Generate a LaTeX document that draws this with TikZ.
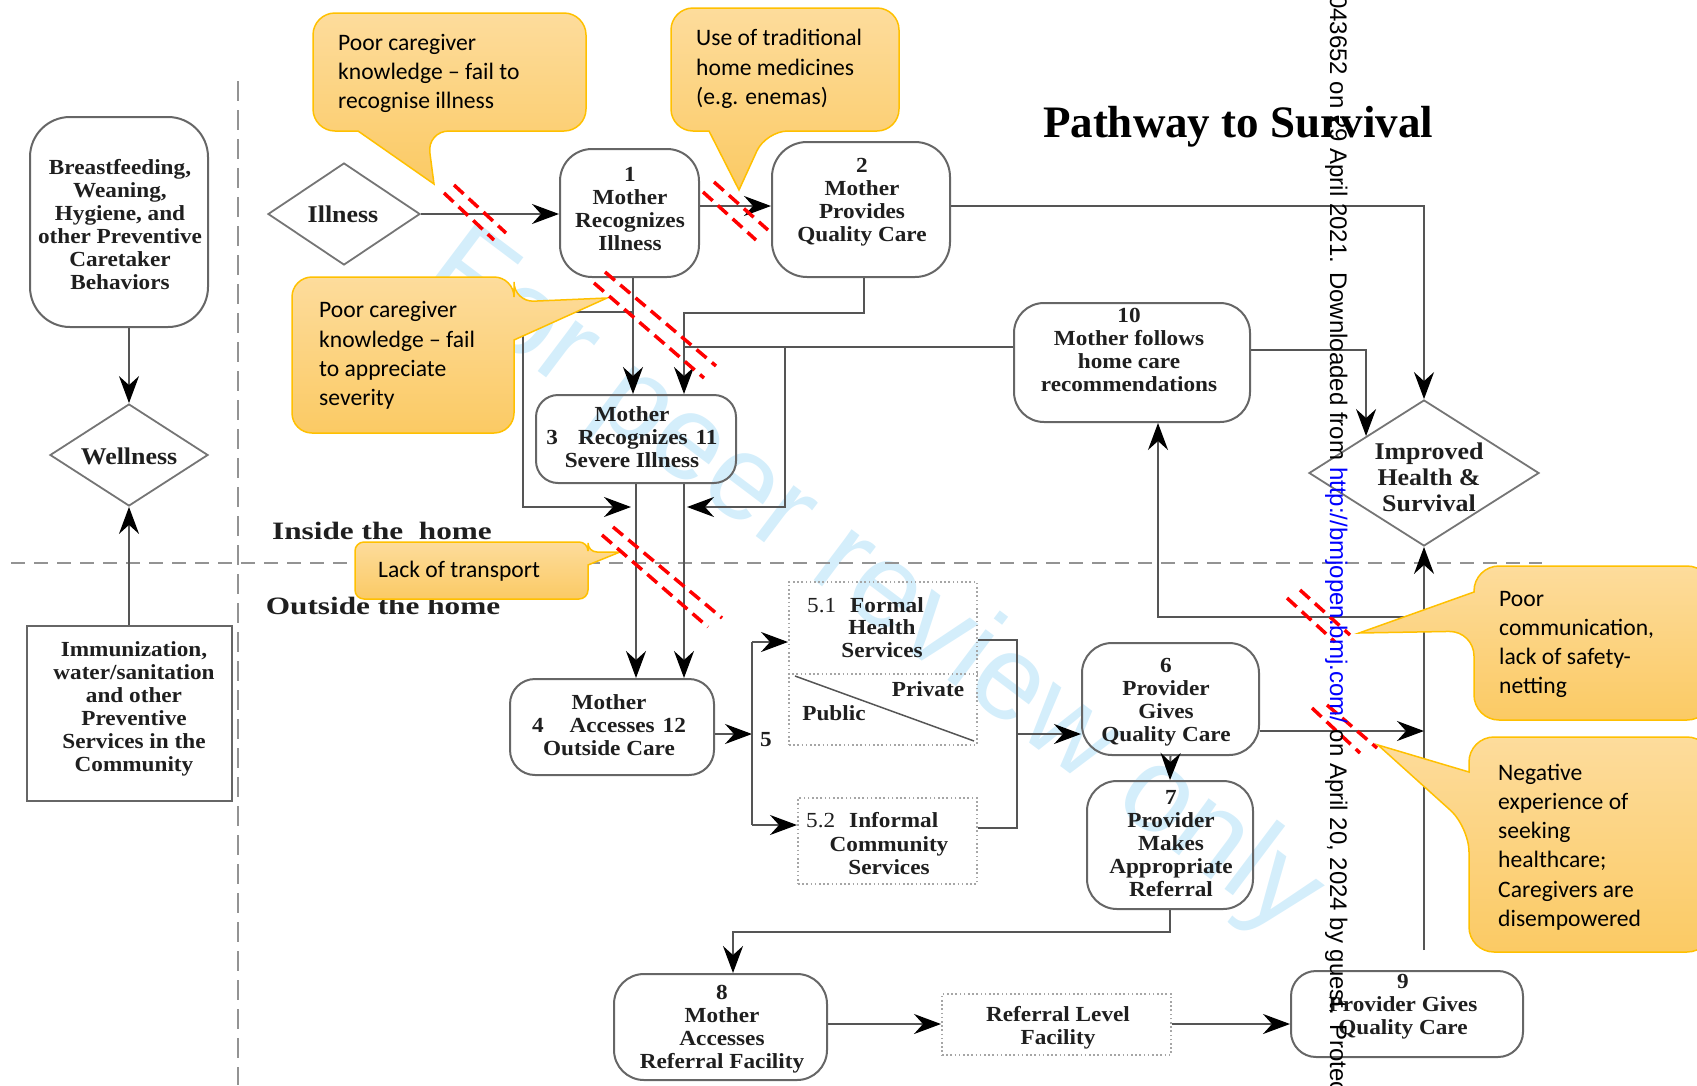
\documentclass[tikz,border=0pt]{standalone}
\usepackage{fontspec}
\setmainfont{Liberation Serif}
\newfontfamily\dfont{Liberation Serif}[FakeStretch=1.08]
\newfontfamily\wfont{Liberation Serif}[FakeStretch=1.25]
\newfontfamily\cfont{Carlito}
\newfontfamily\sfont{Liberation Sans}
\usetikzlibrary{arrows.meta,shapes.geometric}
\definecolor{lc}{HTML}{555555}
\definecolor{bc}{HTML}{666666}
\definecolor{dotc}{HTML}{A6A6A6}
\definecolor{calltop}{HTML}{FDDC9C}
\definecolor{callbot}{HTML}{FBCA64}
\definecolor{callline}{HTML}{FFC000}
\definecolor{hatchred}{HTML}{FF0000}
\definecolor{wmark}{RGB}{212,238,251}
\begin{document}
\begin{tikzpicture}[x=1pt,y=-1pt,
  rbox/.style={draw=bc, line width=2pt, rounded corners=#1, inner sep=0pt},
  sbox/.style={draw=bc, line width=2pt, inner sep=0pt},
  dbox/.style={draw=dotc, line width=2pt, dash pattern=on 1.6pt off 2.6pt, inner sep=0pt},
  dia/.style={draw=bc!90, line width=1.8pt, shape=diamond, inner sep=0pt},
  txt/.style={inner sep=0pt, align=center, text=black!88, font=\dfont\bfseries\fontsize{21.5}{23}\selectfont},
  bigtxt/.style={txt, font=\dfont\bfseries\fontsize{24}{26}\selectfont},
  zone/.style={inner sep=0pt, text=black!88, font=\wfont\bfseries\fontsize{25}{27}\selectfont},
  conn/.style={draw=lc, line width=2pt},
  arr/.style={conn, -{Stealth[length=27pt,width=20pt,inset=9pt,color=black]}},
  sep/.style={draw=gray!85, line width=2pt},
  call/.style={draw=callline, line width=1.5pt, top color=calltop, bottom color=callbot},
  ctext/.style={inner sep=0pt, align=left, anchor=west, text=black, font=\cfont\fontsize{23.6}{29.2}\selectfont},
  hatch/.style={draw=hatchred, line width=3.5pt, dash pattern=on 13pt off 7pt},
]
\useasboundingbox (0,0) rectangle (1697,1085);
\clip (0,0) rectangle (1697,1085);

% watermark behind the drawing
\node[rotate=-37, text=wmark, inner sep=0pt, font=\sfont\fontsize{120}{120}\selectfont] (wm) at (872,585) {For peer review only};

% zone separators
\draw[sep, dash pattern=on 20pt off 9pt] (238,81) -- (238,1085);
\draw[sep, dash pattern=on 14pt off 9pt] (11,563) -- (1542,563);

% title and zone labels
\node[inner sep=0pt, anchor=base, font=\bfseries\fontsize{45}{50}\selectfont] (title) at (1238,137) {Pathway to Survival};
\node[zone] (inh) at (382,531) {Inside the\ \ home};
\node[zone] (outh) at (383,606) {Outside the home};

% prevention column
\node[rbox=40pt, minimum width=178pt, minimum height=210pt] (bf) at (119,222) {};
\node[txt] (bft) at (120,224.5) {Breastfeeding,\\Weaning,\\Hygiene, and\\other Preventive\\Caretaker\\Behaviors};
\node[dia, minimum width=158pt, minimum height=102pt] (wel) at (129,455) {};
\node[bigtxt] (welt) at (129,456) {Wellness};
\node[sbox, minimum width=205pt, minimum height=175pt] (imm) at (129.5,713.5) {};
\node[txt] (immt) at (134,709) {Immunization,\\water/sanitation\\and other\\Preventive\\Services in the\\Community};

% pathway steps
\node[dia, minimum width=152pt, minimum height=102pt] (ill) at (344,214) {};
\node[bigtxt] (illt) at (343,214) {Illness};

\node[rbox=32pt, minimum width=139pt, minimum height=128pt] (n1) at (629.5,213) {};
\node[txt] (n1t) at (630,209) {1\\Mother\\Recognizes\\Illness};

\node[rbox=35pt, minimum width=178pt, minimum height=135pt] (n2) at (861,209.5) {};
\node[txt] (n2t) at (862,202.5) {2\\Mother\\Provides\\Quality Care};

\node[rbox=22pt, minimum width=200pt, minimum height=88pt] (n3) at (636,439) {};
\node[txt] (n3t) at (632,437.5) {Mother\\3\hspace{20pt}Recognizes\hspace{8pt}11\\Severe Illness};

\node[rbox=30pt, minimum width=236pt, minimum height=119pt] (n10) at (1132,362.5) {};
\node[txt] (n10t) at (1129,350) {10\\Mother follows\\home care\\recommendations};

\node[dia, minimum width=230pt, minimum height=146pt] (ihs) at (1424,473) {};
\node[bigtxt] (ihst) at (1429,477) {Improved\\Health \&\\Survival};

\node[rbox=25pt, minimum width=204pt, minimum height=96pt] (n4) at (612,727) {};
\node[txt] (n4t) at (609,725) {Mother\\4\hspace{26pt}Accesses\hspace{8pt}12\\Outside Care};

\node[dbox, minimum width=188pt, minimum height=163pt] (s51) at (883,663.5) {};
\draw[dbox] (s51.west |- 0,674) -- (s51.east |- 0,674);
\draw[conn, line width=1.5pt] (795,676) -- (974,741);
\node[txt, anchor=west] (s51a) at (807,605) {{\mdseries 5.1}\hspace{14pt}Formal};
\node[txt] (s51b) at (882,639) {Health\\Services};
\node[txt] (pri) at (928,689) {Private};
\node[txt] (pub) at (834,713) {Public};

\node[dbox, minimum width=179pt, minimum height=86pt] (s52) at (887.5,841) {};
\node[txt, anchor=west] (s52a) at (806,820) {{\mdseries 5.2}\hspace{14pt}Informal};
\node[txt] (s52b) at (889,855.5) {Community\\Services};

\node[txt] (five) at (766,740) {5};

\node[rbox=30pt, minimum width=177pt, minimum height=112pt] (n6) at (1170.5,699) {};
\node[txt] (n6t) at (1166,702) {6\\Provider\\Gives\\Quality Care};

\node[rbox=30pt, minimum width=166pt, minimum height=128pt] (n7) at (1170,845) {};
\node[txt] (n7t) at (1171,844) {7\\Provider\\Makes\\Appropriate\\Referral};

\node[rbox=30pt, minimum width=213pt, minimum height=106pt] (n8) at (720.5,1027) {};
\node[txt] (n8t) at (722,1029) {8\\Mother\\Accesses\\Referral Facility};

\node[dbox, minimum width=229pt, minimum height=61pt] (rlf) at (1056.5,1024.5) {};
\node[txt] (rlft) at (1058,1028) {Referral Level\\Facility};

\node[rbox=25pt, minimum width=232pt, minimum height=86pt] (n9) at (1407,1014) {};
\node[txt] (n9t) at (1403,1007) {9\\Provider Gives\\Quality Care};

% connectors
\draw[arr] (bf.south -| wel.north) -- (wel.north);
\draw[arr] (imm.north -| wel.south) -- (wel.south);
\draw[arr] (ill.east) -- (ill.east -| n1.west);
\draw[arr] (n1.east |- 0,206) -- (n2.west |- 0,206);
\draw[arr] (n2.east |- 0,206) -- (ihs.north |- 0,206) -- (ihs.north);
\draw[arr] (n10.east |- 0,350) -- (ihs.north west |- 0,350) -- (ihs.north west);

\coordinate (jl) at (633,312);
\coordinate (jr) at (785,347);
\draw[arr] (n1.south -| jl) -- (n3.north -| jl);
\draw[arr] (n2.south -| 864,0) -- (864,313) -- (684,313) -- (n3.north -| 684,0);
\draw[conn] (n10.west |- jr) -- (684,347);
\draw[arr] (jl) -- (523,312) -- (523,507) -- (631,507);
\draw[arr] (jr) -- (785,507) -- (687,507);
\draw[arr] (n3.south -| 636,0) -- (n4.north -| 636,0);
\draw[arr] (n3.south -| 684,0) -- (n4.north -| 684,0);

\coordinate (bt) at (752,642);
\coordinate (bb) at (752,825);
\draw[arr] (n4.east |- 0,734) -- (752,734);
\draw[conn] (bt) -- (bb);
\draw[arr] (bt) -- (s51.west |- bt);
\draw[arr] (bb) -- (s52.west |- bb);
\draw[conn] (s51.east |- 0,640) -- (1017,640) -- (1017,828) -- (s52.east |- 0,828);
\draw[arr] (1017,734) -- (n6.west |- 0,734);
\draw[arr] (n6.south) -- (n7.north);
\draw[arr] (n7.south) -- (n7.south |- 0,932) -- (733,932) -- (n8.north -| 733,0);
\draw[arr] (n8.east |- 0,1024) -- (rlf.west |- 0,1024);
\draw[arr] (rlf.east |- 0,1024) -- (n9.west |- 0,1024);

\coordinate (vb) at (ihs.south |- 0,950);
\draw[arr] (vb) -- (ihs.south);
\draw[arr] (n6.east |- 0,731) -- (ihs.south |- 0,731);
\draw[arr] (ihs.south |- 0,617) -- (1158,617) -- (n10.south -| 1158,0);

% barrier callouts
\draw[call] (313,72) [rounded corners=22pt] -- (313,13) -- (586,13) -- (586,131) -- (427,131) [sharp corners] -- (434,184) -- (358,131) [rounded corners=22pt] -- (313,131) -- cycle;
\node[ctext] (ca) at (338,73.5) {Poor caregiver\\knowledge – fail to\\recognise illness};

\draw[call] (671,70) [rounded corners=22pt] -- (671,8) -- (899,8) -- (899,131) -- (766,131) [sharp corners] -- (739,190) -- (709,131) [rounded corners=22pt] -- (671,131) -- cycle;
\node[ctext] (cb) at (696,69) {Use of traditional\\home medicines\\(e.g. enemas)};

\draw[call] (292,355) [rounded corners=20pt] -- (292,277) -- (514,277) -- (514,302) [sharp corners] -- (607,298) -- (514,340) [rounded corners=20pt] -- (514,433) -- (292,433) -- cycle;
\node[ctext] (cc) at (319,355.5) {Poor caregiver\\knowledge – fail\\to appreciate\\severity};

\draw[call] (355,570) [rounded corners=9pt] -- (355,542) -- (588,542) -- (588,552) [sharp corners] -- (620,552) -- (588,565) [rounded corners=9pt] -- (588,599) -- (355,599) -- cycle;
\node[ctext] (cd) at (378,571) {Lack of transport};

\draw[call] (1600,566) [rounded corners=25pt] -- (1712,566) -- (1712,720) -- (1474,720) -- (1474,631) [sharp corners] -- (1359,633) -- (1474,592) [rounded corners=25pt] -- (1474,566) -- cycle;
\node[ctext] (ce) at (1499,644.5) {Poor\\communication,\\lack of safety-\\netting};

\draw[call] (1600,737) [rounded corners=25pt] -- (1712,737) -- (1712,952) -- (1469,952) -- (1469,827) [sharp corners] -- (1378,745) -- (1469,772) [rounded corners=25pt] -- (1469,737) -- cycle;
\node[ctext] (cf) at (1498,847) {Negative\\experience of\\seeking\\healthcare;\\Caregivers are\\disempowered};

% red break marks on the pathway
\draw[hatch] (444,193) -- (494,240);  \draw[hatch] (454,185) -- (506,233);
\draw[hatch] (703,192) -- (756,240);  \draw[hatch] (714,182) -- (768,230);
\draw[hatch] (594,283) -- (704,378);  \draw[hatch] (605,272) -- (716,366);
\draw[hatch] (602,535) -- (708,627);  \draw[hatch] (613,527) -- (722,618);
\draw[hatch] (1287,598) -- (1335,642); \draw[hatch] (1300,590) -- (1350,635);
\draw[hatch] (1312,708) -- (1360,753); \draw[hatch] (1327,705) -- (1377,748);

% download stamp along the right side
\node[rotate=-90, anchor=base west, inner sep=0pt, font=\sfont\fontsize{24}{28}\selectfont] (stamp) at (1330,-5) {043652 on 29 April 2021. Downloaded from \textcolor{blue}{http://bmjopen.bmj.com/} on April 20, 2024 by guest. Protected};
\end{tikzpicture}
\end{document}
